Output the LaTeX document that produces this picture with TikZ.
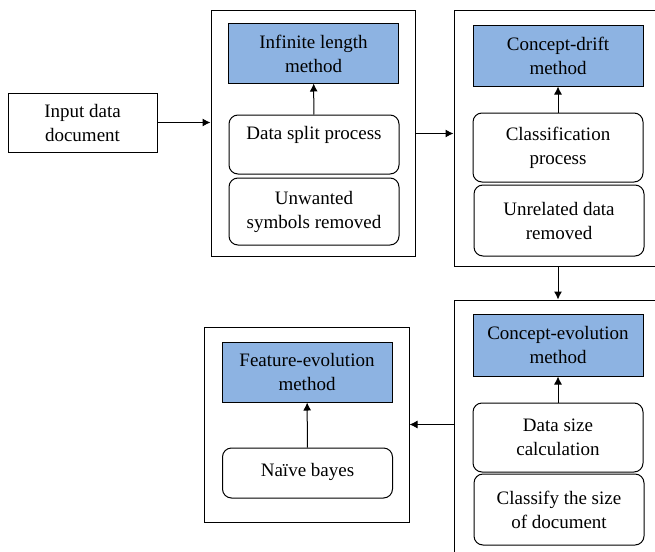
\documentclass[tikz,border=0pt]{standalone}
\usepackage{fontspec}
\setmainfont{Liberation Serif}
\usepackage{xcolor}
\usepackage{tikz}
\usetikzlibrary{calc,arrows.meta,positioning}
\definecolor{methodblue}{RGB}{141,179,226}

\begin{document}
\begin{tikzpicture}
[x=1pt,y=-1pt,line width=1pt,
every node/.style={align=center,inner sep=2pt,font=\fontsize{19}{24}\selectfont},
container/.style={draw,shape=rectangle},
methodbox/.style={draw,shape=rectangle,fill=methodblue,minimum width=170pt,minimum height=60pt},
stepbox/.style={draw,shape=rectangle,rounded corners=9pt,minimum width=170pt},
flow/.style={-{Latex[length=8pt,width=8pt]}}]
\clip (0,0) rectangle (655,551);
%% input
\node[container,minimum width=149pt,minimum height=59pt] (input) at (82.5,122.5) {Input data\\document};
%% first stage
\node[container,minimum width=204pt,minimum height=245pt] (box1) at (313,133.5) {};
\node[methodbox,minimum height=59pt] (infinite) at (313.5,53.5) {Infinite length\\method};
\node[stepbox,minimum height=59pt] (split) at (314,144.5) {Data split process\\[0pt]\mbox{}};
\node[stepbox,minimum height=67pt] (unwanted) at (314,211.5) {Unwanted\\symbols removed};
%% second stage
\node[container,minimum width=216pt,minimum height=255pt] (box2) at (562,138.5) {};
\node[methodbox] (drift) at (558,56) {Concept-drift\\method};
\node[stepbox,minimum height=69pt] (classification) at (558,147.5) {Classification\\process};
\node[stepbox,minimum height=71pt] (unrelated) at (559,220.5) {Unrelated data\\removed};
%% third stage
\node[container,minimum width=216pt,minimum height=280pt] (box3) at (562,440) {};
\node[methodbox,minimum height=62pt] (evolution) at (558,345) {Concept-evolution\\method};
\node[stepbox,minimum height=69pt] (datasize) at (558,437.5) {Data size\\calculation};
\node[stepbox,minimum height=71pt] (classify) at (559,509.5) {Classify the size\\of document};
%% fourth stage
\node[container,minimum width=205pt,minimum height=195pt] (box4) at (306.5,424.5) {};
\node[methodbox] (feature) at (307,372) {Feature-evolution\\method};
\node[stepbox,minimum height=50pt] (naive) at (307.5,473) {\raisebox{6pt}{Naïve bayes}};
%%
\draw[flow] (input.east) -- (input.east -| box1.west);
\draw[flow] (box1.east) -- (box1.east -| box2.west);
\draw[flow] (box2.south -| evolution) -- (box3.north -| evolution);
\draw[flow] (box3.west |- box4.east) -- (box4.east);
\path
\foreach \startNode/\endNode in {split/infinite,classification/drift,datasize/evolution,naive/feature}
{
	(\startNode) edge[flow] (\endNode)
};
\end{tikzpicture}
\end{document}
